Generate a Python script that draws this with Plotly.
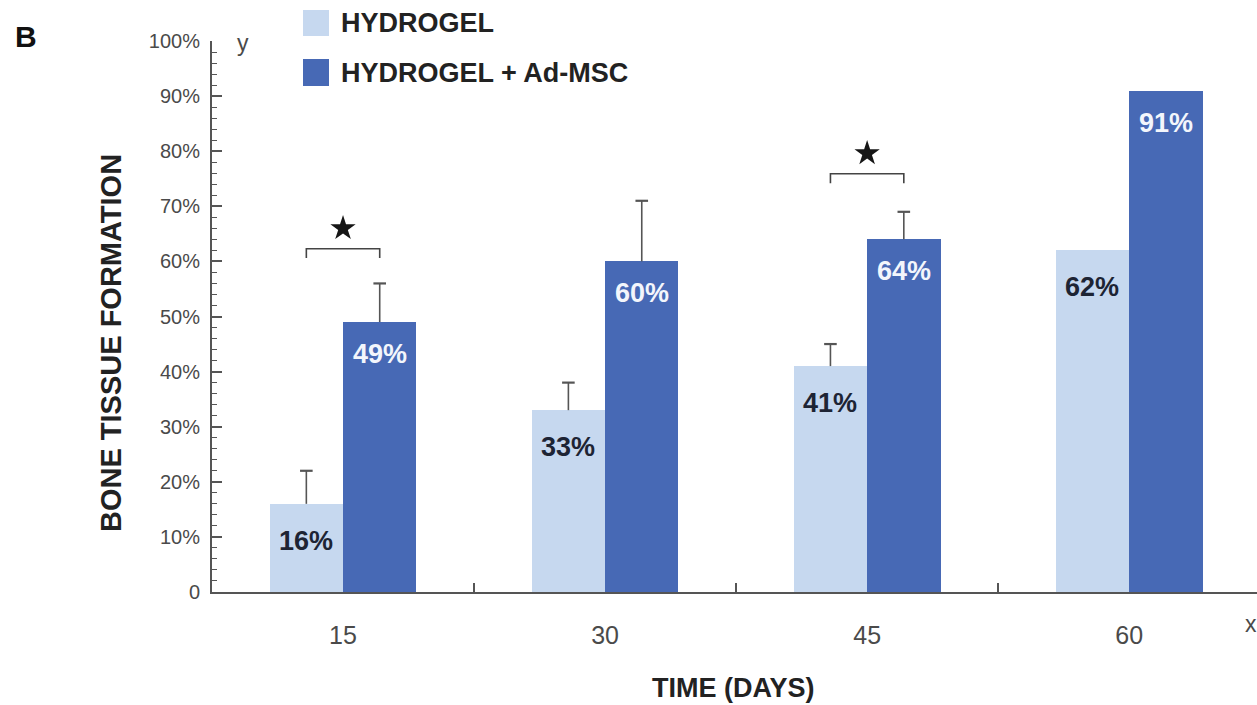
import plotly.graph_objects as go

# ---- data ----
days = [15, 30, 45, 60]
hydrogel = [16, 33, 41, 62]
hydrogel_msc = [49, 60, 64, 91]
hydrogel_err = [6, 5, 4, None]
hydrogel_msc_err = [7, 11, 5, None]
series_names = ["HYDROGEL", "HYDROGEL + Ad-MSC"]
y_tickvals = [0, 10, 20, 30, 40, 50, 60, 70, 80, 90, 100]
y_ticktext = ["0", "10%", "20%", "30%", "40%", "50%", "60%", "70%", "80%", "90%", "100%"]
sig_days = [15, 45]
sig_bracket_y = [62.3, 75.9]

# ---- style ----
LIGHT = "#c6d8ef"
DARK = "#4769b5"
AXIS = "#555555"
TICKFONT = "#4a4a4a"
FONT = "Liberation Sans, Arial, sans-serif"
BAR_W = 4.2

W, H = 1257, 705
ML, MR, MT, MB = 212, 0, 41, 113
PW, PH = W - ML - MR, H - MT - MB
X0 = 7.5
X1 = X0 + PW / 17.47


def px(x):
    return (x - ML) / PW


def py(y):
    return (H - MB - y) / PH


def label(x, y, text, size, color, bold=False, anchor="center", angle=0):
    return dict(x=px(x), y=py(y), xref="paper", yref="paper",
                xanchor=anchor, yanchor="middle", textangle=angle,
                text=f"<b>{text}</b>" if bold else text, showarrow=False,
                font=dict(family=FONT, size=size, color=color))


fig = go.Figure()

fig.add_trace(go.Bar(x=days, y=hydrogel, width=BAR_W, offset=-BAR_W,
                     marker=dict(color=LIGHT, line=dict(width=0)),
                     name=series_names[0], showlegend=False))
fig.add_trace(go.Bar(x=days, y=hydrogel_msc, width=BAR_W, offset=0,
                     marker=dict(color=DARK, line=dict(width=0)),
                     name=series_names[1], showlegend=False))

# one-sided (upper) error bars: stem + cap
for vals, errs, shift in [(hydrogel, hydrogel_err, -BAR_W / 2),
                          (hydrogel_msc, hydrogel_msc_err, BAR_W / 2)]:
    sx, sy, cx, cy = [], [], [], []
    for d, v, e in zip(days, vals, errs):
        if e is None:
            continue
        sx += [d + shift, d + shift, None]
        sy += [v, v + e, None]
        cx.append(d + shift)
        cy.append(v + e)
    fig.add_trace(go.Scatter(x=sx, y=sy, mode="lines",
                             line=dict(color=AXIS, width=1.6),
                             hoverinfo="skip", showlegend=False))
    fig.add_trace(go.Scatter(x=cx, y=cy, mode="markers",
                             marker=dict(symbol="line-ew", size=9,
                                         line=dict(color=AXIS, width=2.2)),
                             hoverinfo="skip", showlegend=False))

# significance brackets and stars
for d, by in zip(sig_days, sig_bracket_y):
    l, r = d - BAR_W / 2, d + BAR_W / 2
    fig.add_trace(go.Scatter(x=[l, l, r, r], y=[by - 1.7, by, by, by - 1.7],
                             mode="lines", line=dict(color="#444444", width=1.6),
                             hoverinfo="skip", showlegend=False))
    fig.add_trace(go.Scatter(x=[d], y=[by + 3.7], mode="markers",
                             marker=dict(symbol="star", size=19, color="#161616"),
                             hoverinfo="skip", showlegend=False))

# value labels inside the bars
annotations = []
for vals, shift, col, drop in [(hydrogel, -BAR_W / 2, "#1d2434", -37),
                               (hydrogel_msc, BAR_W / 2, "#f3f6fc", -32)]:
    for d, v in zip(days, vals):
        annotations.append(dict(x=d + shift, y=v, xref="x", yref="y",
                                xanchor="center", yanchor="middle",
                                text=f"<b>{v}%</b>", showarrow=False, yshift=drop,
                                font=dict(family=FONT, size=27, color=col)))

# panel letter, axis titles, axis end letters
annotations += [
    label(26, 36, "B", 30, "#111111", bold=True),
    label(111, 343, "BONE TISSUE FORMATION", 29, "#222222", bold=True, angle=-90),
    label(733, 688, "TIME (DAYS)", 27, "#222222", bold=True),
    label(243, 43, "y", 23, TICKFONT),
    label(1251, 624, "x", 23, TICKFONT),
]

# legend swatches and labels
shapes = []
for (top, bot), col, name in [((10, 36), LIGHT, series_names[0]),
                              ((59, 86), DARK, series_names[1])]:
    shapes.append(dict(type="rect", xref="paper", yref="paper",
                       x0=px(303), x1=px(329), y0=py(bot), y1=py(top),
                       fillcolor=col, line=dict(width=0)))
    annotations.append(label(339, (top + bot) / 2, name, 27, "#222222",
                             bold=True, anchor="left"))

fig.update_layout(
    width=W, height=H,
    margin=dict(l=ML, r=MR, t=MT, b=MB, pad=0),
    paper_bgcolor="white", plot_bgcolor="white",
    barmode="overlay", bargap=0,
    annotations=annotations, shapes=shapes,
    showlegend=False,
    xaxis=dict(range=[X0, X1], showgrid=False, zeroline=False,
               showline=True, linecolor=AXIS, linewidth=2,
               tickmode="array", tickvals=days, ticktext=[str(d) for d in days],
               ticks="", ticklabelstandoff=20,
               tickfont=dict(family=FONT, size=25, color=TICKFONT),
               minor=dict(tickmode="array", tickvals=[22.5, 37.5, 52.5],
                          ticks="inside", ticklen=9, tickwidth=2, tickcolor=AXIS)),
    yaxis=dict(range=[0, 100], showgrid=False, zeroline=False,
               showline=True, linecolor=AXIS, linewidth=2,
               tickmode="array", tickvals=y_tickvals, ticktext=y_ticktext,
               ticks="inside", ticklen=10, tickwidth=1.6, tickcolor=AXIS,
               ticklabelstandoff=6,
               tickfont=dict(family=FONT, size=20, color=TICKFONT),
               minor=dict(dtick=2, tick0=0, ticks="inside", ticklen=5,
                          tickwidth=1.3, tickcolor=AXIS)),
)

fig.write_html("out.html")
